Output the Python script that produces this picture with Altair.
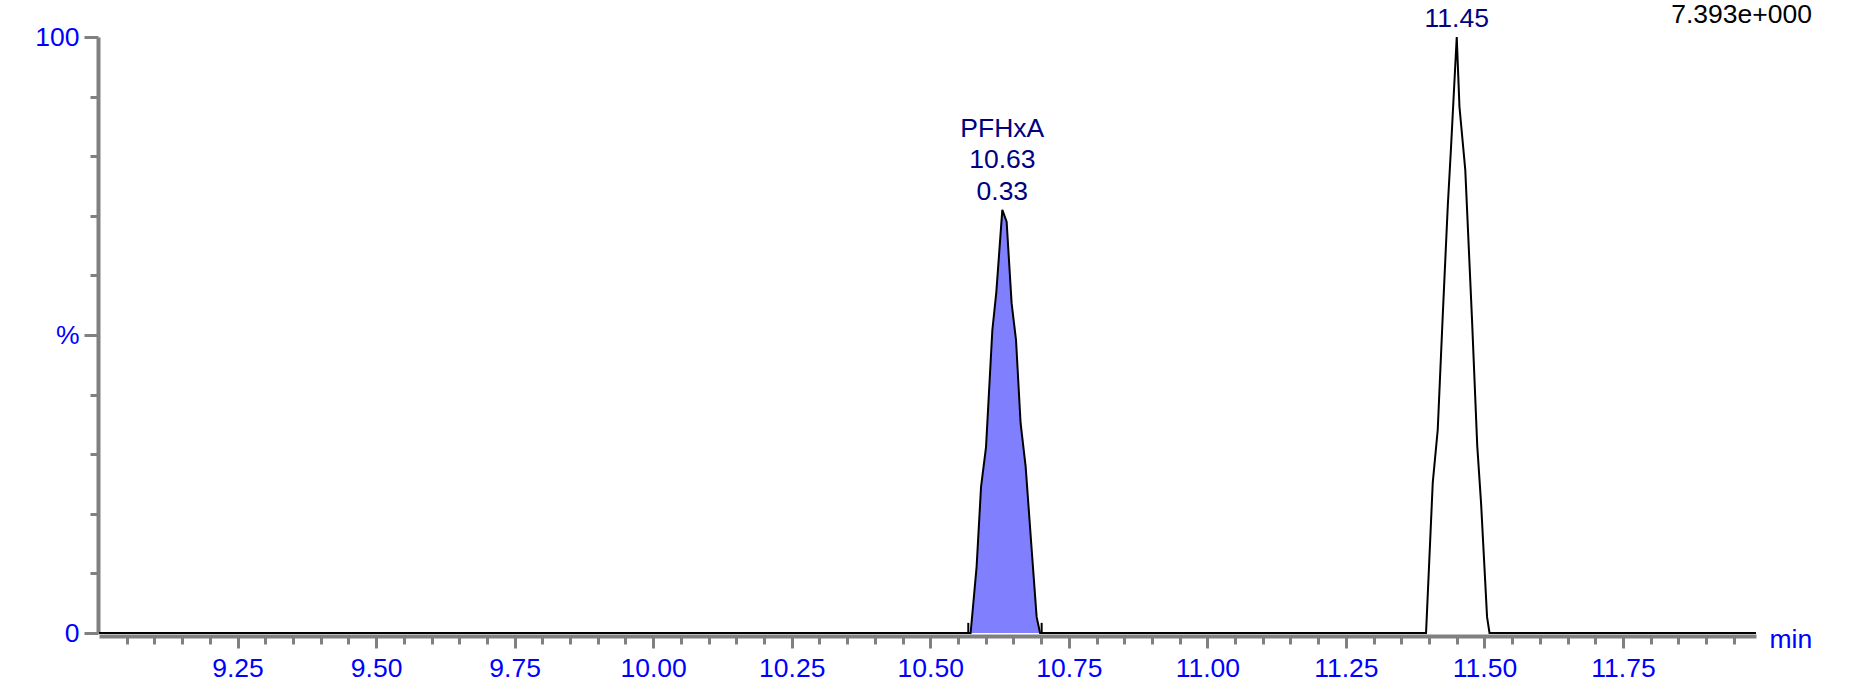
import altair as alt
import pandas as pd

# Chromatogram trace: retention time (min) and relative intensity (%)
trace_time = [
    9.00,
    10.5728, 10.5836, 10.5916, 10.6006, 10.6120, 10.6192, 10.6300,
    10.6378, 10.6468, 10.6547, 10.6630, 10.6721, 10.6829, 10.6919, 10.6981,
    11.3946, 11.4067, 11.4157, 11.4248, 11.4338, 11.4397, 11.4500,
    11.4549, 11.4654, 11.4776, 11.4870, 11.4939, 11.5047, 11.5091,
    11.99,
]
trace_pct = [
    0.0,
    0.0, 11.1, 24.5, 31.2, 50.8, 57.2, 71.0,
    69.0, 55.3, 49.2, 35.2, 27.9, 14.1, 2.7, 0.0,
    0.0, 25.2, 34.1, 53.4, 71.6, 81.5, 100.0,
    88.3, 77.7, 52.5, 31.4, 21.8, 2.7, 0.0,
    0.0,
]

# Integrated peak window (start / end of integration, min)
integration_bounds = [10.5686, 10.7010]
marker_height = [1.7, 1.7]

# Peak annotations
peak_names = ["PFHxA", ""]
peak_rt = [10.63, 11.45]
peak_apex = [71.0, 100.0]
peak_area = ["0.33", ""]

full_scale = "7.393e+000"

# Axis tick positions
x_ticks = [round(9.05 + 0.05 * i, 2) for i in range(59)]
y_ticks = [0, 10, 20, 30, 40, 50, 60, 70, 80, 90, 100]

FONT = "Liberation Sans"
FS = 26.5
LINE_H = 31.5
GRAY = "#808080"
BLUE = "#0000FF"
NAVY = "#000080"

trace = pd.DataFrame({"time": trace_time, "pct": trace_pct})
shaded = trace[(trace.time >= integration_bounds[0]) & (trace.time <= integration_bounds[1])]
markers = pd.DataFrame({"time": integration_bounds, "top": marker_height})

x_scale = alt.Scale(domain=[9.0, 11.99], nice=False, zero=False)
y_scale = alt.Scale(domain=[0, 100], nice=False)

major_x = "abs(datum.value*4 - round(datum.value*4)) < 0.001"

x_axis = alt.Axis(
    values=x_ticks,
    tickCount=200,
    labelExpr=f"{major_x} ? format(datum.value, '.2f') : ''",
    tickSize={"condition": {"test": major_x, "value": 12}, "value": 8},
    tickWidth=3,
    tickColor=GRAY,
    domainColor=GRAY,
    domainWidth=4,
    offset=3,
    grid=False,
    labelColor=BLUE,
    labelFont=FONT,
    labelFontSize=FS,
    labelPadding=7,
    labelFlush=False,
    labelOverlap=False,
    title="min",
    titleColor=BLUE,
    titleFont=FONT,
    titleFontSize=FS,
    titleFontWeight="normal",
    titleX=1670,
    titleY=11,
    titleAlign="left",
    titleAnchor="start",
    titleBaseline="alphabetic",
)

y_axis = alt.Axis(
    values=y_ticks,
    tickCount=50,
    labelExpr="datum.value == 100 ? '100' : datum.value == 50 ? '%' : datum.value == 0 ? '0' : ''",
    tickSize={"condition": {"test": "datum.value % 50 == 0", "value": 14}, "value": 8},
    tickWidth=3,
    tickColor=GRAY,
    domainColor=GRAY,
    domainWidth=4,
    offset=1,
    grid=False,
    labelColor=BLUE,
    labelFont=FONT,
    labelFontSize=FS,
    labelPadding=5,
    labelOverlap=False,
    labelFlush=False,
    title=None,
)

area = alt.Chart(shaded).mark_area(color="#8080FF", opacity=1).encode(
    x=alt.X("time:Q", scale=x_scale, axis=x_axis),
    y=alt.Y("pct:Q", scale=y_scale, axis=y_axis),
)

line = alt.Chart(trace).mark_line(color="black", strokeWidth=2).encode(
    x=alt.X("time:Q", scale=x_scale),
    y=alt.Y("pct:Q", scale=y_scale),
    order="time:Q",
)

ticks = alt.Chart(markers).mark_rule(color="black", strokeWidth=2).encode(
    x=alt.X("time:Q", scale=x_scale),
    y=alt.Y("top:Q", scale=y_scale),
    y2=alt.datum(0),
)

# One text layer per peak label: stacked lines sit above the apex
label_layers = []
for name, rt, apex, area_txt in zip(peak_names, peak_rt, peak_apex, peak_area):
    lines = [s for s in (name, f"{rt:.2f}", area_txt) if s]
    df = pd.DataFrame({"time": [rt], "pct": [apex], "label": ["\n".join(lines)]})
    label_layers.append(
        alt.Chart(df).mark_text(
            baseline="alphabetic",
            align="center",
            lineBreak="\n",
            lineHeight=LINE_H,
            dy=-10 - (len(lines) - 1) * LINE_H,
            font=FONT,
            fontSize=FS,
            color=NAVY,
        ).encode(
            x=alt.X("time:Q", scale=x_scale),
            y=alt.Y("pct:Q", scale=y_scale),
            text="label:N",
        )
    )

# Full-scale intensity shown at the top-right corner
scale_note = alt.Chart(pd.DataFrame({"note": [full_scale]})).mark_text(
    align="right",
    baseline="alphabetic",
    font=FONT,
    fontSize=FS,
    color="black",
).encode(
    x=alt.value(1713),
    y=alt.value(-14),
    text="note:N",
)

chart = (
    alt.layer(area, line, ticks, *label_layers, scale_note)
    .properties(
        width=1657,
        height=596,
        autosize=alt.AutoSizeParams(type="none"),
        padding={"left": 99, "top": 37, "right": 93, "bottom": 51},
    )
    .configure(background="white", view=alt.ViewConfig(stroke=None))
)

chart.save("out.html", embed_options={"renderer": "svg", "actions": False})
